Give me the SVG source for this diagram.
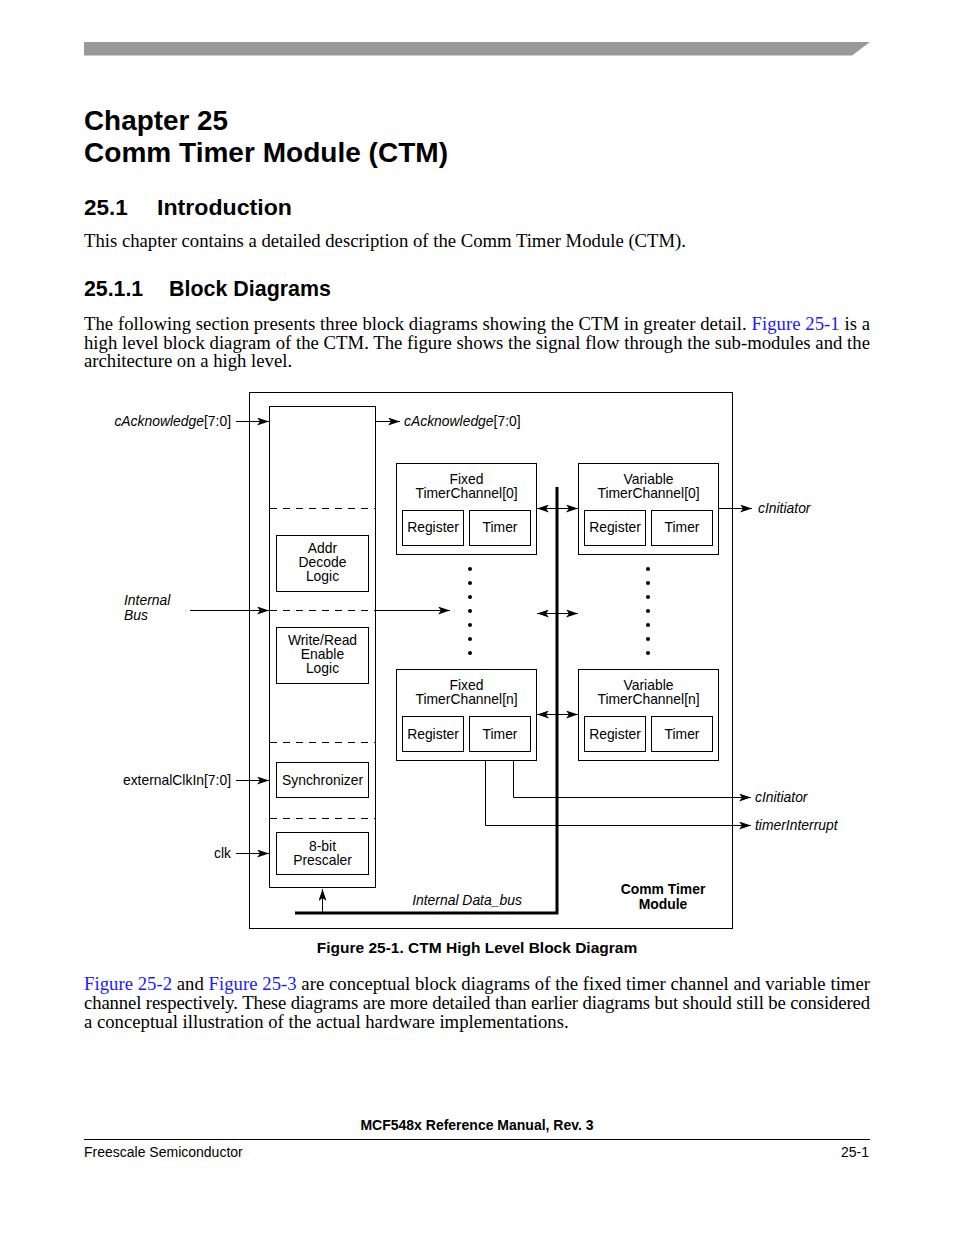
<svg xmlns="http://www.w3.org/2000/svg" width="954" height="1235" viewBox="0 0 954 1235">
<defs>
<marker id="ah" markerWidth="12" markerHeight="8" refX="12" refY="4" orient="auto" markerUnits="userSpaceOnUse">
<path d="M0,0 L12,4 L0,8 L3,4 z" fill="#000"/>
</marker>
<marker id="as" markerWidth="12" markerHeight="8" refX="0" refY="4" orient="auto" markerUnits="userSpaceOnUse">
<path d="M12,0 L0,4 L12,8 L9,4 z" fill="#000"/>
</marker>
</defs>
<style>
.h{font-family:"Liberation Sans",Arial,sans-serif;font-weight:bold;fill:#000}
.b{font-family:"Liberation Serif","Times New Roman",serif;font-size:18.7px;fill:#000}
.lk{fill:#1a1aff}
.d{font-family:"Liberation Sans",Arial,sans-serif;font-size:13.9px;fill:#000}
.dc{font-family:"Liberation Sans",Arial,sans-serif;font-size:13.9px;fill:#000;text-anchor:middle}
.i{font-style:italic}
.box{fill:none;stroke:#000;stroke-width:1}
.dash{stroke:#000;stroke-width:1;stroke-dasharray:7,6;fill:none}
.ln{stroke:#000;stroke-width:1;fill:none}
.bus{stroke:#000;stroke-width:3;fill:none}
.f{font-family:"Liberation Sans",Arial,sans-serif;font-size:14px;fill:#000}
</style>
<rect width="954" height="1235" fill="#fff"/>
<polygon points="84,42 870,42 852,55.5 84,55.5" fill="#999"/>
<text class="h" x="84" y="130" font-size="28" textLength="144" lengthAdjust="spacingAndGlyphs">Chapter 25</text>
<text class="h" x="84" y="162" font-size="28" textLength="364" lengthAdjust="spacingAndGlyphs">Comm Timer Module (CTM)</text>
<text class="h" x="84" y="215" font-size="22.5">25.1</text>
<text class="h" x="157" y="215" font-size="22.5" textLength="135" lengthAdjust="spacingAndGlyphs">Introduction</text>
<text class="b" x="84" y="247" textLength="602" lengthAdjust="spacingAndGlyphs">This chapter contains a detailed description of the Comm Timer Module (CTM).</text>
<text class="h" x="84" y="296" font-size="21.3">25.1.1</text>
<text class="h" x="169" y="296" font-size="21.3" textLength="162" lengthAdjust="spacingAndGlyphs">Block Diagrams</text>
<text class="b" x="84" y="330" textLength="786" lengthAdjust="spacing">The following section presents three block diagrams showing the CTM in greater detail. <tspan class="lk">Figure 25-1</tspan> is a</text>
<text class="b" x="84" y="349" textLength="786" lengthAdjust="spacing">high level block diagram of the CTM. The figure shows the signal flow through the sub-modules and the</text>
<text class="b" x="84" y="367">architecture on a high level.</text>

<g id="outer"><rect class="box" x="249.5" y="392.5" width="483" height="536"/></g>
<g id="ctrl">
<rect class="box" x="269.5" y="406.5" width="106" height="481"/>
<line class="dash" x1="270" y1="508.5" x2="375" y2="508.5"/>
<line class="dash" x1="270" y1="610.5" x2="375" y2="610.5"/>
<line class="dash" x1="270" y1="742.5" x2="375" y2="742.5"/>
<line class="dash" x1="270" y1="818.5" x2="375" y2="818.5"/>
</g>
<g id="addr"><rect class="box" x="276.5" y="535.5" width="92" height="56"/>
<text class="dc" x="322.5" y="553">Addr</text><text class="dc" x="322.5" y="567">Decode</text><text class="dc" x="322.5" y="581">Logic</text></g>
<g id="wr"><rect class="box" x="276.5" y="627.5" width="92" height="56"/>
<text class="dc" x="322.5" y="645">Write/Read</text><text class="dc" x="322.5" y="659">Enable</text><text class="dc" x="322.5" y="673">Logic</text></g>
<g id="sync"><rect class="box" x="276.5" y="762.5" width="92" height="35"/>
<text class="dc" x="322.5" y="785">Synchronizer</text></g>
<g id="presc"><rect class="box" x="276.5" y="832.5" width="92" height="42"/>
<text class="dc" x="322.5" y="851">8-bit</text><text class="dc" x="322.5" y="865">Prescaler</text></g>

<g id="ftc0"><rect class="box" x="396.5" y="463.5" width="140" height="91"/>
<text class="dc" x="466.5" y="484">Fixed</text><text class="dc" x="466.5" y="498">TimerChannel[0]</text>
<rect class="box" x="402.5" y="510.5" width="61" height="35"/><text class="dc" x="433" y="532">Register</text>
<rect class="box" x="469.5" y="510.5" width="61" height="35"/><text class="dc" x="500" y="532">Timer</text></g>
<g id="vtc0"><rect class="box" x="578.5" y="463.5" width="140" height="91"/>
<text class="dc" x="648.5" y="484">Variable</text><text class="dc" x="648.5" y="498">TimerChannel[0]</text>
<rect class="box" x="584.5" y="510.5" width="61" height="35"/><text class="dc" x="615" y="532">Register</text>
<rect class="box" x="651.5" y="510.5" width="61" height="35"/><text class="dc" x="682" y="532">Timer</text></g>
<g id="ftcn"><rect class="box" x="396.5" y="669.5" width="140" height="91"/>
<text class="dc" x="466.5" y="690">Fixed</text><text class="dc" x="466.5" y="704">TimerChannel[n]</text>
<rect class="box" x="402.5" y="716.5" width="61" height="35"/><text class="dc" x="433" y="739">Register</text>
<rect class="box" x="469.5" y="716.5" width="61" height="35"/><text class="dc" x="500" y="739">Timer</text></g>
<g id="vtcn"><rect class="box" x="578.5" y="669.5" width="140" height="91"/>
<text class="dc" x="648.5" y="690">Variable</text><text class="dc" x="648.5" y="704">TimerChannel[n]</text>
<rect class="box" x="584.5" y="716.5" width="61" height="35"/><text class="dc" x="615" y="739">Register</text>
<rect class="box" x="651.5" y="716.5" width="61" height="35"/><text class="dc" x="682" y="739">Timer</text></g>

<g id="dots" fill="#000">
<circle cx="470" cy="569" r="2"/><circle cx="470" cy="583" r="2"/><circle cx="470" cy="597" r="2"/><circle cx="470" cy="611" r="2"/><circle cx="470" cy="625" r="2"/><circle cx="470" cy="639" r="2"/><circle cx="470" cy="653" r="2"/>
<circle cx="648" cy="569" r="2"/><circle cx="648" cy="583" r="2"/><circle cx="648" cy="597" r="2"/><circle cx="648" cy="611" r="2"/><circle cx="648" cy="625" r="2"/><circle cx="648" cy="639" r="2"/><circle cx="648" cy="653" r="2"/>
</g>

<g id="connectors">
<line class="ln" x1="236" y1="421.5" x2="269" y2="421.5" marker-end="url(#ah)"/>
<line class="ln" x1="376" y1="421.5" x2="400" y2="421.5" marker-end="url(#ah)"/>
<line class="ln" x1="190" y1="610.5" x2="269" y2="610.5" marker-end="url(#ah)"/>
<line class="ln" x1="376" y1="610.5" x2="450" y2="610.5" marker-end="url(#ah)"/>
<line class="ln" x1="236" y1="780.5" x2="269" y2="780.5" marker-end="url(#ah)"/>
<line class="ln" x1="236" y1="853.5" x2="269" y2="853.5" marker-end="url(#ah)"/>
<line class="ln" x1="537" y1="508.5" x2="578" y2="508.5" marker-start="url(#as)" marker-end="url(#ah)"/>
<line class="ln" x1="537" y1="613.5" x2="578" y2="613.5" marker-start="url(#as)" marker-end="url(#ah)"/>
<line class="ln" x1="537" y1="714.5" x2="578" y2="714.5" marker-start="url(#as)" marker-end="url(#ah)"/>
<line class="ln" x1="719" y1="508.5" x2="752" y2="508.5" marker-end="url(#ah)"/>
<polyline class="ln" points="513.5,761 513.5,797.5 751,797.5" marker-end="url(#ah)"/>
<polyline class="ln" points="485.5,761 485.5,825.5 751,825.5" marker-end="url(#ah)"/>
<polyline class="bus" points="295,913 557,913 557,487"/>
<line class="ln" x1="322.5" y1="912" x2="322.5" y2="889" marker-end="url(#ah)"/>
</g>

<g id="labels">
<text class="d" x="231" y="426" text-anchor="end"><tspan class="i">cAcknowledge</tspan>[7:0]</text>
<text class="d" x="404" y="426"><tspan class="i">cAcknowledge</tspan>[7:0]</text>
<text class="d i" x="124" y="605">Internal</text>
<text class="d i" x="124" y="620">Bus</text>
<text class="d" x="231" y="785" text-anchor="end">externalClkIn[7:0]</text>
<text class="d" x="231" y="858" text-anchor="end">clk</text>
<text class="d i" x="758" y="513">cInitiator</text>
<text class="d i" x="755" y="802">cInitiator</text>
<text class="d i" x="755" y="830">timerInterrupt</text>
<text class="dc i" x="467" y="905">Internal Data_bus</text>
<text class="dc" x="663" y="894" font-weight="bold">Comm Timer</text>
<text class="dc" x="663" y="909" font-weight="bold">Module</text>
</g>

<text class="h" x="477" y="953" font-size="15.5" text-anchor="middle">Figure 25-1. CTM High Level Block Diagram</text>
<text class="b" x="84" y="990" textLength="786" lengthAdjust="spacing"><tspan class="lk">Figure 25-2</tspan> and <tspan class="lk">Figure 25-3</tspan> are conceptual block diagrams of the fixed timer channel and variable timer</text>
<text class="b" x="84" y="1009" textLength="786" lengthAdjust="spacing">channel respectively. These diagrams are more detailed than earlier diagrams but should still be considered</text>
<text class="b" x="84" y="1028">a conceptual illustration of the actual hardware implementations.</text>

<text class="h" x="477" y="1130" font-size="14" text-anchor="middle">MCF548x Reference Manual, Rev. 3</text>
<line x1="84" y1="1139.5" x2="870" y2="1139.5" stroke="#000" stroke-width="1"/>
<text class="f" x="84" y="1157">Freescale Semiconductor</text>
<text class="f" x="869" y="1157" text-anchor="end">25-1</text>
</svg>
